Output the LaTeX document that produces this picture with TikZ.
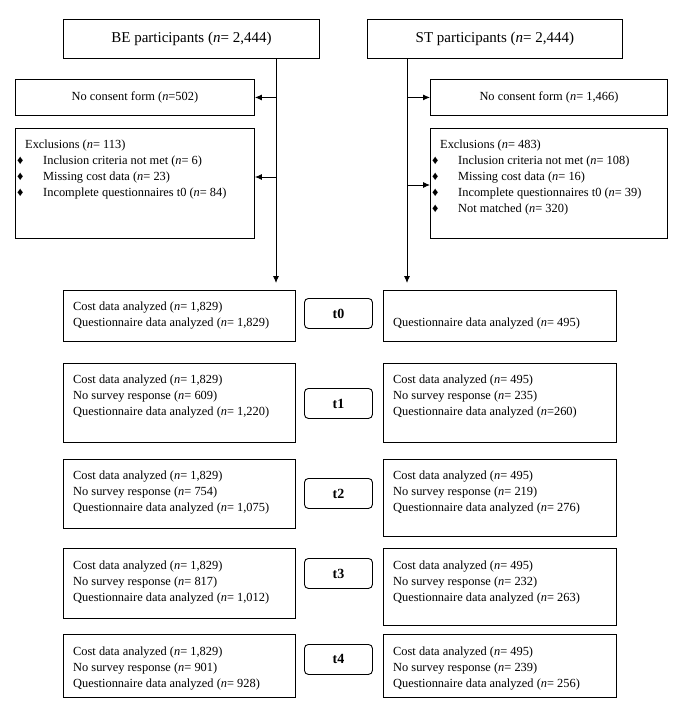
\documentclass[tikz,border=0pt]{standalone}
\usepackage{fontspec}
\setmainfont{Liberation Serif}
\usepackage{tikz}
\usetikzlibrary{positioning,arrows.meta}
\newcommand{\nit}{\textit{n}}
\newcommand{\dia}{\hspace*{-8pt}\makebox[26pt][l]{\fontsize{12.5}{12.5}\selectfont ♦}}

\begin{document}
\begin{tikzpicture}[x=1pt,y=-1pt,
  box/.style={draw,line width=0.9pt,anchor=north west,inner sep=0pt,
              font=\fontsize{12.4}{16}\selectfont},
  headbox/.style={box,font=\fontsize{15}{18}\selectfont},
  tbox/.style={draw,line width=0.9pt,rounded corners=4pt,anchor=north west,
               minimum width=68pt,minimum height=30pt,inner sep=0pt,
               font=\bfseries\fontsize{14}{16}\selectfont},
  txt/.style={align=left,inner sep=0pt,font=\fontsize{12.4}{16}\selectfont},
  arr/.style={-{Latex[length=7pt,width=6pt]},line width=0.9pt}]
  \useasboundingbox (0,0) rectangle (688,710);

  \node[headbox,minimum width=256pt,minimum height=39pt] (be) at (63,19) {BE participants (\nit= 2,444)};
  \node[headbox,minimum width=255pt,minimum height=39pt] (st) at (367,19) {ST participants (\nit= 2,444)};

  \node[box,minimum width=239pt,minimum height=36pt] (benc) at (15,79) {No consent form (\nit=502)};
  \node[box,minimum width=237pt,minimum height=36pt] (stnc) at (430,79) {No consent form (\nit= 1,466)};

  \node[box,minimum width=239pt,minimum height=110pt] (beex) at (15,128) {};
  \node[txt,below right=12pt and 10pt of beex.north west] (beext) {Exclusions (\nit= 113)\\
    \dia Inclusion criteria not met (\nit= 6)\\
    \dia Missing cost data (\nit= 23)\\
    \dia Incomplete questionnaires t0 (\nit= 84)};
  \node[box,minimum width=237pt,minimum height=110pt] (stex) at (430,128) {};
  \node[txt,below right=12pt and 10pt of stex.north west] (stext) {Exclusions (\nit= 483)\\
    \dia Inclusion criteria not met (\nit= 108)\\
    \dia Missing cost data (\nit= 16)\\
    \dia Incomplete questionnaires t0 (\nit= 39)\\
    \dia Not matched (\nit= 320)};

  \node[box,minimum width=232pt,minimum height=51pt] (bet0) at (63,290) {};
  \node[txt,below right=12pt and 10pt of bet0.north west] (bet0t) {Cost data analyzed (\nit= 1,829)\\
    Questionnaire data analyzed (\nit= 1,829)};
  \node[tbox] (t0) at (304,298) {t0};
  \node[box,minimum width=233pt,minimum height=51pt] (stt0) at (383,290) {};
  \node[txt,below right=28pt and 10pt of stt0.north west] (stt0t) {Questionnaire data analyzed (\nit= 495)};

  \node[box,minimum width=232pt,minimum height=79pt] (bet1) at (63,363) {};
  \node[txt,below right=12pt and 10pt of bet1.north west] (bet1t) {Cost data analyzed (\nit= 1,829)\\
    No survey response (\nit= 609)\\
    Questionnaire data analyzed (\nit= 1,220)};
  \node[tbox] (t1) at (304,388) {t1};
  \node[box,minimum width=233pt,minimum height=79pt] (stt1) at (383,363) {};
  \node[txt,below right=12pt and 10pt of stt1.north west] (stt1t) {Cost data analyzed (\nit= 495)\\
    No survey response (\nit= 235)\\
    Questionnaire data analyzed (\nit=260)};

  \node[box,minimum width=232pt,minimum height=69pt] (bet2) at (63,459) {};
  \node[txt,below right=12pt and 10pt of bet2.north west] (bet2t) {Cost data analyzed (\nit= 1,829)\\
    No survey response (\nit= 754)\\
    Questionnaire data analyzed (\nit= 1,075)};
  \node[tbox] (t2) at (304,478) {t2};
  \node[box,minimum width=233pt,minimum height=77pt] (stt2) at (383,459) {};
  \node[txt,below right=12pt and 10pt of stt2.north west] (stt2t) {Cost data analyzed (\nit= 495)\\
    No survey response (\nit= 219)\\
    Questionnaire data analyzed (\nit= 276)};

  \node[box,minimum width=232pt,minimum height=70pt] (bet3) at (63,548) {};
  \node[txt,below right=13pt and 10pt of bet3.north west] (bet3t) {Cost data analyzed (\nit= 1,829)\\
    No survey response (\nit= 817)\\
    Questionnaire data analyzed (\nit= 1,012)};
  \node[tbox] (t3) at (304,558) {t3};
  \node[box,minimum width=233pt,minimum height=77pt] (stt3) at (383,548) {};
  \node[txt,below right=13pt and 10pt of stt3.north west] (stt3t) {Cost data analyzed (\nit= 495)\\
    No survey response (\nit= 232)\\
    Questionnaire data analyzed (\nit= 263)};

  \node[box,minimum width=232pt,minimum height=63pt] (bet4) at (63,634) {};
  \node[txt,below right=13pt and 10pt of bet4.north west] (bet4t) {Cost data analyzed (\nit= 1,829)\\
    No survey response (\nit= 901)\\
    Questionnaire data analyzed (\nit= 928)};
  \node[tbox] (t4) at (304,644) {t4};
  \node[box,minimum width=233pt,minimum height=63pt] (stt4) at (383,634) {};
  \node[txt,below right=13pt and 10pt of stt4.north west] (stt4t) {Cost data analyzed (\nit= 495)\\
    No survey response (\nit= 239)\\
    Questionnaire data analyzed (\nit= 256)};

  \coordinate (bex) at (276,0);
  \coordinate (stx) at (407,0);
  \coordinate (bej) at (276,177);
  \coordinate (stj) at (407,185);
  \draw[arr,shorten >=7pt] (bex |- be.south) -- (bex |- bet0.north);
  \draw[arr] (bex |- benc.east) -- (benc.east);
  \draw[arr] (bej) -- (bej -| beex.east);
  \draw[arr,shorten >=7pt] (stx |- st.south) -- (stx |- stt0.north);
  \draw[arr] (stx |- stnc.west) -- (stnc.west);
  \draw[arr] (stj) -- (stj -| stex.west);
\end{tikzpicture}
\end{document}
